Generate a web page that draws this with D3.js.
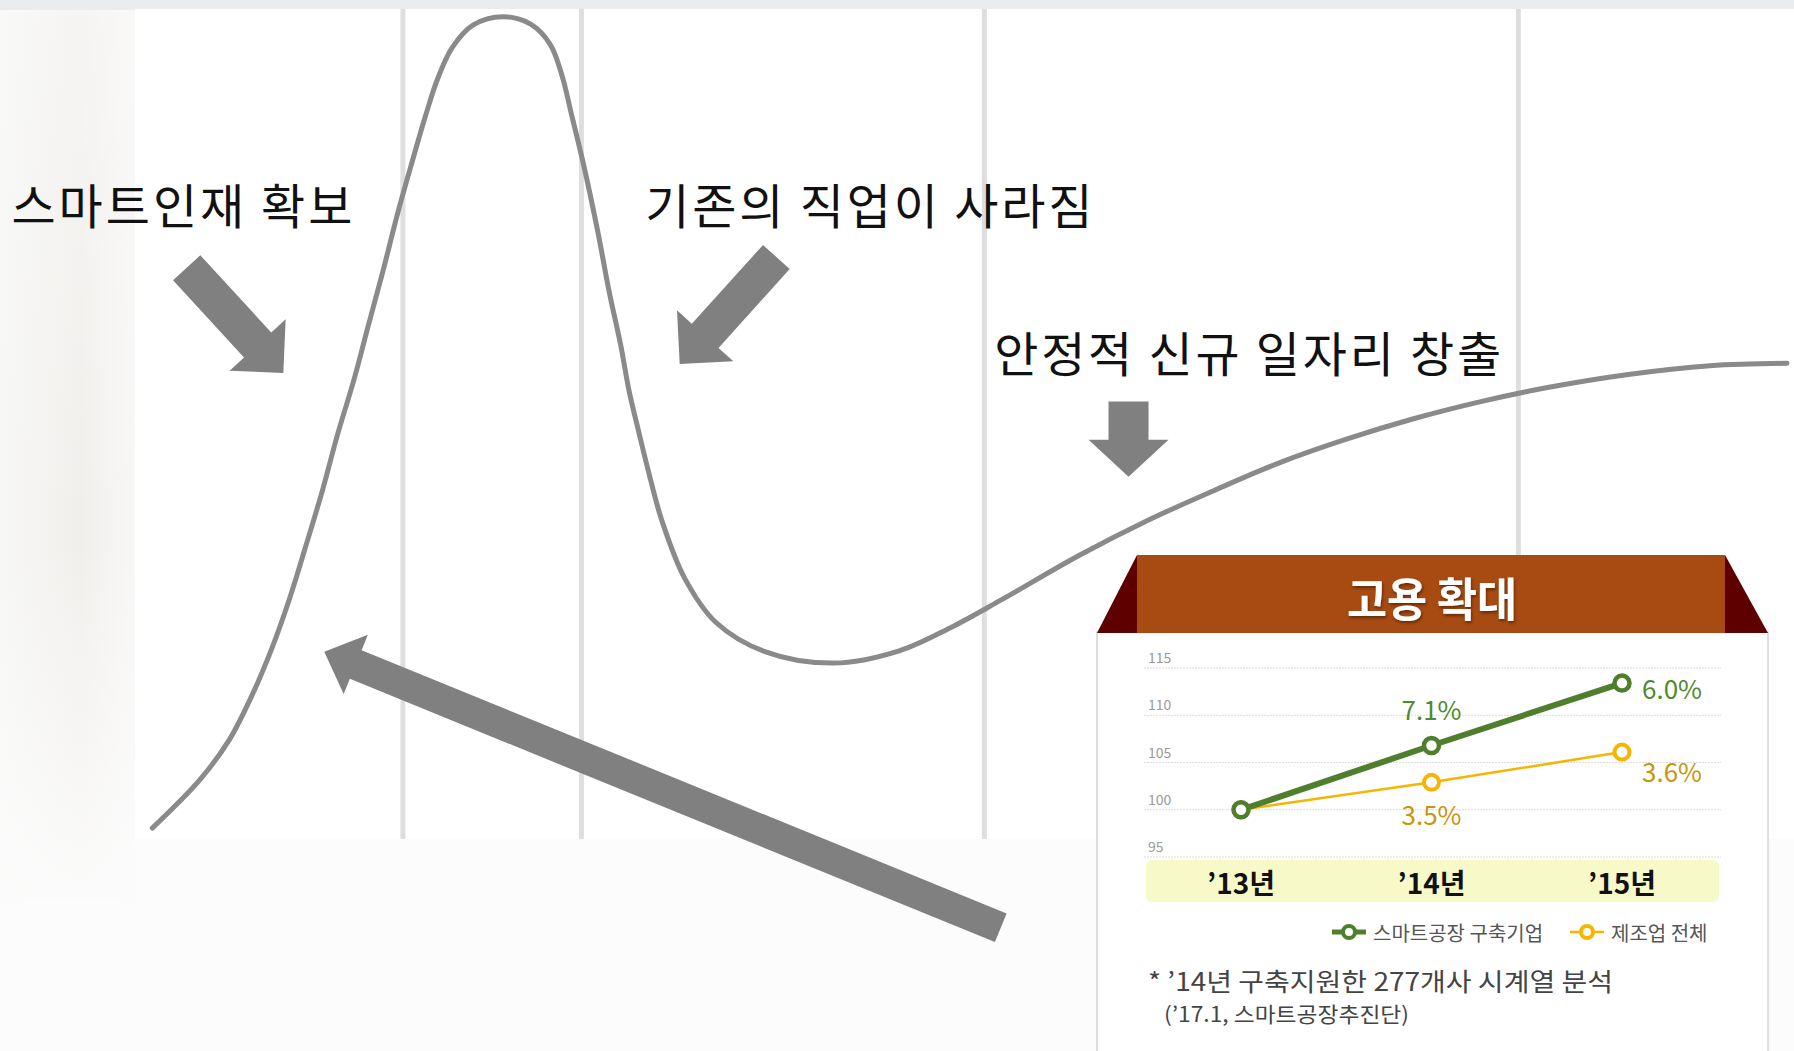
<!DOCTYPE html>
<html>
<head>
<meta charset="utf-8">
<script src="https://cdn.jsdelivr.net/npm/d3@7"></script>
<style>
  body { margin: 0; overflow: hidden; background: #fcfcfc; }
  text { font-family: "Noto Sans CJK KR", "Noto Sans", sans-serif; }
</style>
</head>
<body>
<div id="chart"></div>
<script>
// hype cycle curve, x = time (0-100), y = expectation (0-100)
var hypeX = [0.2, 3.1, 4.9, 6.3, 7.5, 8.6, 9.6, 10.6, 11.5, 12.5, 13.4, 14.3, 15.2, 16.1, 16.9, 17.6, 18.5, 19.8, 21.6,
             23.3, 24.5, 25.2, 25.8, 26.6, 27.4, 28.1, 28.8, 29.3, 29.9, 30.5, 31.3, 32.7, 34.6, 37.6, 41.8, 45.8, 48.9,
             52.0, 56.8, 60.9, 65.0, 69.0, 73.1, 77.2, 81.3, 85.3, 90.2, 95.3, 100];
var hypeY = [0.6, 6.5, 11.4, 16.9, 22.6, 28.8, 35.3, 42.0, 48.7, 55.4, 62.2, 68.9, 76.0, 82.4, 87.9, 92.2, 96.1, 98.9, 99.9,
             99.0, 96.5, 92.8, 87.9, 81.2, 73.6, 66.2, 59.7, 54.2, 49.1, 44.2, 38.3, 31.2, 25.8, 22.2, 20.8, 22.3, 25.1,
             28.5, 34.0, 38.2, 41.9, 45.3, 48.2, 50.7, 52.8, 54.5, 56.1, 57.2, 57.5];
var phaseDividers = [15.5, 26.4, 51.0, 83.6];

var noteTexts = ["스마트인재 확보", "기존의 직업이 사라짐", "안정적 신규 일자리 창출"];
var noteX = [-8.4, 30.3, 51.6];
var noteY = [77.1, 77.1, 59.0];
var noteWidth = [341, 447, 507];

// arrows: tail -> tip, in curve units
var arrowTail = [[2.3, 69.2], [38.3, 70.5], [59.8, 52.8], [52.0, -11.6]];
var arrowTip = [[8.2, 56.3], [32.4, 57.4], [59.8, 43.6], [10.7, 22.2]];
var arrowShaft = [37, 36, 40, 31];
var arrowHead = [[76, 38], [76, 38], [80, 37], [64, 34]];

// inset chart
var years = ["\u201913년", "\u201914년", "\u201915년"];
var smartFactory = [100, 106.8, 113.4];
var manufacturing = [100, 102.9, 106.1];
var smartLabels = ["", "7.1%", "6.0%"];
var manuLabels = ["", "3.5%", "3.6%"];
var yTicks = [95, 100, 105, 110, 115];
var legendNames = ["스마트공장 구축기업", "제조업 전체"];

var W = 1794, H = 1051;
var green = "#4f7f2c", yellow = "#f6b500";

var svg = d3.select("#chart").append("svg")
    .attr("width", W)
    .attr("height", H);

var defs = svg.append("defs");
var lg = defs.append("linearGradient").attr("id", "leftFade").attr("x1", 0).attr("x2", 1).attr("y1", 0).attr("y2", 0);
lg.append("stop").attr("offset", "0%").attr("stop-color", "#f7f7f6");
lg.append("stop").attr("offset", "60%").attr("stop-color", "#f1efec");
lg.append("stop").attr("offset", "100%").attr("stop-color", "#f8f7f6");
var vg = defs.append("linearGradient").attr("id", "leftFadeV").attr("x1", 0).attr("x2", 0).attr("y1", 0).attr("y2", 1);
vg.append("stop").attr("offset", "0%").attr("stop-color", "#fcfcfc").attr("stop-opacity", 0.4);
vg.append("stop").attr("offset", "60%").attr("stop-color", "#fcfcfc").attr("stop-opacity", 0);
vg.append("stop").attr("offset", "100%").attr("stop-color", "#fcfcfc").attr("stop-opacity", 0.9);
defs.append("filter").attr("id", "soft")
    .append("feGaussianBlur").attr("stdDeviation", 0.7);
defs.append("filter").attr("id", "shadow")
    .append("feDropShadow").attr("dx", 1).attr("dy", 2).attr("stdDeviation", 1.5)
    .attr("flood-color", "#4a1a00").attr("flood-opacity", 0.7);

// background
svg.append("rect").attr("width", W).attr("height", H).attr("fill", "#fcfcfc");
svg.append("rect").attr("x", 0).attr("y", 0).attr("width", 135).attr("height", 900).attr("fill", "url(#leftFade)");
svg.append("rect").attr("x", 0).attr("y", 0).attr("width", 135).attr("height", 900).attr("fill", "url(#leftFadeV)");
svg.append("rect").attr("x", 0).attr("y", 0).attr("width", W).attr("height", 10).attr("fill", "#e9edf0");
svg.append("rect").attr("x", 135).attr("y", 9).attr("width", W - 135).attr("height", 830).attr("fill", "#ffffff");

var x = d3.scaleLinear().domain([0, 100]).range([149, 1787]);
var y = d3.scaleLinear().domain([0, 100]).range([833, 16]);

svg.selectAll(".divider")
    .data(phaseDividers)
    .enter()
    .append("line")
    .attr("class", "divider")
    .attr("x1", function(d){ return x(d); })
    .attr("x2", function(d){ return x(d); })
    .attr("y1", 9)
    .attr("y2", 839)
    .attr("stroke", "#dedede")
    .attr("stroke-width", 5);

var hype = hypeX.map(function(d, i){ return [d, hypeY[i]]; });
var line = d3.line()
    .x(function(d){ return x(d[0]); })
    .y(function(d){ return y(d[1]); })
    .curve(d3.curveCatmullRom.alpha(0.5));

svg.append("path")
    .datum(hype)
    .attr("d", line)
    .attr("fill", "none")
    .attr("stroke", "#8a8a8a")
    .attr("stroke-width", 5)
    .attr("stroke-linecap", "round")
    .attr("filter", "url(#soft)");

// annotation texts
svg.selectAll(".note")
    .data(noteTexts)
    .enter()
    .append("text")
    .attr("class", "note")
    .attr("x", function(d, i){ return x(noteX[i]); })
    .attr("y", function(d, i){ return y(noteY[i]); })
    .attr("dominant-baseline", "central")
    .attr("font-size", 48)
    .attr("fill", "#111")
    .attr("textLength", function(d, i){ return noteWidth[i]; })
    .attr("lengthAdjust", "spacing")
    .text(function(d){ return d; });

function arrowPoints(t, p, sw, hw, hl){
    var dx = p[0] - t[0], dy = p[1] - t[1];
    var len = Math.sqrt(dx * dx + dy * dy);
    var ux = dx / len, uy = dy / len;
    var nx = -uy, ny = ux;
    var bx = p[0] - ux * hl, by = p[1] - uy * hl;
    return [
        [t[0] + nx * sw / 2, t[1] + ny * sw / 2],
        [bx + nx * sw / 2, by + ny * sw / 2],
        [bx + nx * hw / 2, by + ny * hw / 2],
        p,
        [bx - nx * hw / 2, by - ny * hw / 2],
        [bx - nx * sw / 2, by - ny * sw / 2],
        [t[0] - nx * sw / 2, t[1] - ny * sw / 2]
    ];
}

svg.selectAll(".arrow")
    .data(arrowTail)
    .enter()
    .append("polygon")
    .attr("class", "arrow")
    .attr("points", function(d, i){
        var t = [x(d[0]), y(d[1])];
        var p = [x(arrowTip[i][0]), y(arrowTip[i][1])];
        return arrowPoints(t, p, arrowShaft[i], arrowHead[i][0], arrowHead[i][1]).join(" ");
    })
    .attr("fill", "#808080");

// ---- inset box ----
var box = svg.append("g");
box.append("rect").attr("x", 1097).attr("y", 632).attr("width", 671).attr("height", 430)
    .attr("fill", "#fff").attr("stroke", "#d4d4d4").attr("stroke-width", 1.5);
box.append("polygon").attr("points", "1097,633 1137,555 1137,633").attr("fill", "#5e0000");
box.append("polygon").attr("points", "1725,555 1768,633 1725,633").attr("fill", "#5e0000");
box.append("rect").attr("x", 1137).attr("y", 555).attr("width", 588).attr("height", 78).attr("fill", "#a84b12");
box.append("text")
    .attr("x", 1432).attr("y", 596)
    .attr("text-anchor", "middle")
    .attr("dominant-baseline", "central")
    .attr("font-size", 46)
    .attr("font-weight", 700)
    .attr("fill", "#fff")
    .attr("textLength", 170)
    .attr("lengthAdjust", "spacingAndGlyphs")
    .attr("filter", "url(#shadow)")
    .text("고용 확대");

var ix = d3.scalePoint().domain(years).range([1241, 1622]);
var iy = d3.scaleLinear().domain([95, 115]).range([857, 668]);

box.selectAll(".grid")
    .data(yTicks)
    .enter()
    .append("line")
    .attr("x1", 1144).attr("x2", 1721)
    .attr("y1", function(d){ return iy(d); })
    .attr("y2", function(d){ return iy(d); })
    .attr("stroke", "#dcdcdc")
    .attr("stroke-width", 1.2)
    .attr("stroke-dasharray", "2,1");

box.selectAll(".ytick")
    .data(yTicks)
    .enter()
    .append("text")
    .attr("x", 1148)
    .attr("y", function(d){ return iy(d) - 11; })
    .attr("dominant-baseline", "central")
    .attr("font-size", 14)
    .attr("fill", "#9a9a9a")
    .text(function(d){ return d; });

box.append("rect").attr("x", 1146).attr("y", 860).attr("width", 573).attr("height", 42)
    .attr("rx", 6).attr("fill", "#f8f9c8");

box.selectAll(".year")
    .data(years)
    .enter()
    .append("text")
    .attr("x", function(d){ return ix(d); })
    .attr("y", 882)
    .attr("text-anchor", "middle")
    .attr("dominant-baseline", "central")
    .attr("font-size", 28)
    .attr("font-weight", 700)
    .attr("fill", "#111")
    .text(function(d){ return d; });

var iline = d3.line()
    .x(function(d, i){ return ix(years[i]); })
    .y(function(d){ return iy(d); });

box.append("path").datum(manufacturing).attr("d", iline)
    .attr("fill", "none").attr("stroke", yellow).attr("stroke-width", 2.5);
box.append("path").datum(smartFactory).attr("d", iline)
    .attr("fill", "none").attr("stroke", green).attr("stroke-width", 6);

box.selectAll(".mdot")
    .data(manufacturing)
    .enter()
    .append("circle")
    .attr("cx", function(d, i){ return ix(years[i]); })
    .attr("cy", function(d){ return iy(d); })
    .attr("r", 7.5)
    .attr("fill", "#fff")
    .attr("stroke", yellow)
    .attr("stroke-width", 4);

box.selectAll(".sdot")
    .data(smartFactory)
    .enter()
    .append("circle")
    .attr("cx", function(d, i){ return ix(years[i]); })
    .attr("cy", function(d){ return iy(d); })
    .attr("r", 7.5)
    .attr("fill", "#fff")
    .attr("stroke", green)
    .attr("stroke-width", 4.5);

// value labels: 14 above/below the point, 15 to the right
box.selectAll(".slabel")
    .data(smartLabels)
    .enter()
    .append("text")
    .attr("x", function(d, i){ return i == 2 ? ix(years[i]) + 50 : ix(years[i]); })
    .attr("y", function(d, i){ return i == 2 ? iy(smartFactory[i]) + 4 : iy(smartFactory[i]) - 37; })
    .attr("text-anchor", "middle")
    .attr("dominant-baseline", "central")
    .attr("font-size", 26)
    .attr("fill", "#4e8a2e")
    .text(function(d){ return d; });

box.selectAll(".mlabel")
    .data(manuLabels)
    .enter()
    .append("text")
    .attr("x", function(d, i){ return i == 2 ? ix(years[i]) + 50 : ix(years[i]); })
    .attr("y", function(d, i){ return i == 2 ? iy(manufacturing[i]) + 18 : iy(manufacturing[i]) + 31; })
    .attr("text-anchor", "middle")
    .attr("dominant-baseline", "central")
    .attr("font-size", 26)
    .attr("fill", "#c8960c")
    .text(function(d){ return d; });

// legend
var legendX = [1332, 1570];
var legendColors = [green, yellow];
var leg = box.selectAll(".leg")
    .data(legendNames)
    .enter()
    .append("g")
    .attr("transform", function(d, i){ return "translate(" + legendX[i] + ",932)"; });
leg.append("line").attr("x1", 0).attr("x2", 34).attr("y1", 0).attr("y2", 0)
    .attr("stroke", function(d, i){ return legendColors[i]; })
    .attr("stroke-width", function(d, i){ return i == 0 ? 5 : 2.5; });
leg.append("circle").attr("cx", 17).attr("cy", 0).attr("r", 6)
    .attr("fill", "#fff")
    .attr("stroke", function(d, i){ return legendColors[i]; })
    .attr("stroke-width", 4);
leg.append("text").attr("x", 41).attr("y", 0)
    .attr("dominant-baseline", "central")
    .attr("font-size", 20)
    .attr("fill", "#555")
    .text(function(d){ return d; });

box.append("text")
    .attr("x", 1148).attr("y", 980)
    .attr("dominant-baseline", "central")
    .attr("font-size", 25)
    .attr("fill", "#444")
    .attr("textLength", 465)
    .attr("lengthAdjust", "spacingAndGlyphs")
    .text("* \u201914년 구축지원한 277개사 시계열 분석");
box.append("text")
    .attr("x", 1164).attr("y", 1013)
    .attr("dominant-baseline", "central")
    .attr("font-size", 21)
    .attr("fill", "#444")
    .attr("textLength", 245)
    .attr("lengthAdjust", "spacingAndGlyphs")
    .text("(\u201917.1, 스마트공장추진단)");
</script>
</body>
</html>
